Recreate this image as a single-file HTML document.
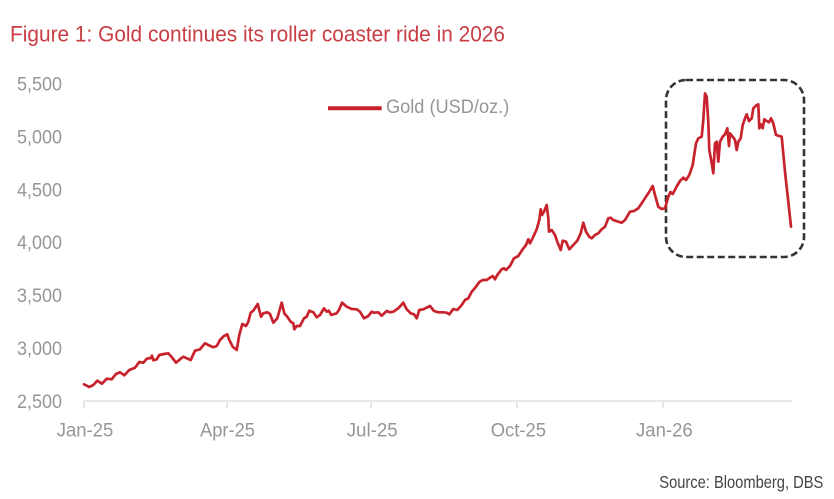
<!DOCTYPE html>
<html>
<head>
<meta charset="utf-8">
<style>
  html, body { margin: 0; padding: 0; background: #ffffff; }
  body { width: 834px; height: 499px; overflow: hidden; }
  svg { display: block; }
  text { font-family: "Liberation Sans", sans-serif; }
</style>
</head>
<body>
<svg width="834" height="499" viewBox="0 0 834 499" xmlns="http://www.w3.org/2000/svg">
  <rect x="0" y="0" width="834" height="499" fill="#ffffff"/>

  <!-- Title -->
  <text x="10" y="41.5" font-size="22" fill="#c93d44" textLength="495" lengthAdjust="spacingAndGlyphs">Figure 1: Gold continues its roller coaster ride in 2026</text>

  <!-- Y axis labels -->
  <g font-size="19.5" fill="#969696" text-anchor="end">
    <text x="62" y="90.5" textLength="45" lengthAdjust="spacingAndGlyphs">5,500</text>
    <text x="62" y="143.4" textLength="45" lengthAdjust="spacingAndGlyphs">5,000</text>
    <text x="62" y="196.3" textLength="45" lengthAdjust="spacingAndGlyphs">4,500</text>
    <text x="62" y="249.2" textLength="45" lengthAdjust="spacingAndGlyphs">4,000</text>
    <text x="62" y="302.1" textLength="45" lengthAdjust="spacingAndGlyphs">3,500</text>
    <text x="62" y="355.0" textLength="45" lengthAdjust="spacingAndGlyphs">3,000</text>
    <text x="62" y="407.9" textLength="45" lengthAdjust="spacingAndGlyphs">2,500</text>
  </g>

  <!-- X axis -->
  <line x1="84" y1="401" x2="792" y2="401" stroke="#e0e0e0" stroke-width="1.6"/>
  <g stroke="#e0e0e0" stroke-width="1.6">
    <line x1="84" y1="401" x2="84" y2="408"/>
    <line x1="227" y1="401" x2="227" y2="408"/>
    <line x1="371" y1="401" x2="371" y2="408"/>
    <line x1="517" y1="401" x2="517" y2="408"/>
    <line x1="663" y1="401" x2="663" y2="408"/>
  </g>
  <g font-size="19" fill="#969696">
    <text x="56.7" y="436.7" textLength="56.6" lengthAdjust="spacingAndGlyphs">Jan-25</text>
    <text x="200" y="436.7" textLength="55" lengthAdjust="spacingAndGlyphs">Apr-25</text>
    <text x="346.7" y="436.7" textLength="51" lengthAdjust="spacingAndGlyphs">Jul-25</text>
    <text x="490.7" y="436.7" textLength="55.3" lengthAdjust="spacingAndGlyphs">Oct-25</text>
    <text x="636" y="436.7" textLength="56.7" lengthAdjust="spacingAndGlyphs">Jan-26</text>
  </g>

  <!-- Legend -->
  <line x1="328" y1="108.3" x2="381.7" y2="108.3" stroke="#c8232c" stroke-width="4"/>
  <text x="386" y="113" font-size="19" fill="#969696" textLength="123.3" lengthAdjust="spacingAndGlyphs">Gold (USD/oz.)</text>

  <!-- Dashed highlight box -->
  <rect x="666" y="80" width="138" height="177" rx="20" ry="20" fill="none" stroke="#333333" stroke-width="2.6" stroke-dasharray="7 3.5"/>

  <!-- Gold series -->
  <polyline fill="none" stroke="#c8232c" stroke-width="2.7" stroke-linejoin="round" stroke-linecap="round"
    points="84,384.3 89.3,387 93.3,385 97.3,380.7 102,383.7 106.7,378.7 111.7,379.3 116,374 120,372.3 124.3,375.3 129.3,370 135,367.7 139.3,362 143.3,362.7 146.7,358.7 150.7,358 152,355.7 153.3,360.3 156.7,359.3 159.3,355 164,354 168.3,353.3 171.7,357 176,362.7 180,359.3 183.3,356.7 186.7,358.3 190.7,360 195,350.7 200,349.3 205,343.3 208.3,345 213.3,347.3 216.7,346 220,340 224,336 227.3,334.3 229.3,340 232.7,346.7 236.7,350 239.3,335 242.3,324 246,326 248.3,321.7 250.7,312.7 253.3,310.7 257.7,304 261,316.7 263.3,313.3 267.3,312.3 270,314 273.3,322.7 277.3,318.3 281.7,302.7 284.3,313.3 287.3,316.7 290.7,321.7 293.3,323.3 294.3,329.3 296.7,326 300,326 304,318.3 306.7,316.7 309.3,310.7 313.3,312.3 316.7,317.3 320,315 324,308.3 326.7,311.7 328.7,310.7 331.3,315 336.7,313.3 339.3,309.3 342,302.7 346.7,306.7 351.7,309 356.7,309.3 360,311.7 364,318.3 368.3,316 371.7,311.7 374,312.7 378.3,312.3 381.7,315.7 386.7,311 390,312.3 393.3,311.7 398.3,308.3 403.3,302.7 406.7,309.3 410.7,313.3 414,314.3 416.7,318.3 419.3,310 423.3,309.3 430,306 434,311 438.3,312.3 443.3,312.3 446.7,312.7 449.3,314.3 453.3,309 457.3,310 461.7,305 465,300 468.3,298.3 471.7,291.7 473.3,290 476,286.7 479.3,282 482.7,280 486.7,280 490.7,277.3 492.7,276 495,279.3 497.3,275 501.7,269.3 504,268.3 506,270 510,266 514,258.3 518.3,256 522.7,249.3 526,245 528.3,239.3 530,243.3 533.3,236.7 536.7,229.3 539.3,220 540.7,209.3 542,215 544,211.7 546.7,205 548.3,218.3 549,231.7 551.7,230 555,235 557.3,241.7 560.7,250 562.7,240.7 566,241.7 569.3,249.3 573.3,245 577.3,240.7 580.7,233.3 583.3,222.7 586,231.7 589.3,236.7 591.7,238.3 595,235 598.3,233.3 601.7,229.3 605,226.7 608.3,218.3 610.7,217.7 613.3,220 618.3,221.7 621.7,222.7 625,220 630,211.7 634,211 638.3,208.3 641.7,203.3 646,196.7 649.3,191.7 652.7,186 655,195 658.3,206.7 661.7,209 665,208.3 668.3,196.7 670.5,192 672.7,194 676.7,186.5 680,181 683.3,177.7 686,180 689.3,175 692.7,165 696,143.3 698.3,138.3 701.7,136.7 703.3,120 705,93.3 706.7,96.7 708.3,121.7 709.3,150 711.7,163.3 713.3,173.3 715,143.3 716.7,141.7 718.3,161.7 720,141.7 722.7,136.7 725,134.3 727.3,128.3 729,146 730,133.3 732.7,136.7 735,140 736.7,150 738.3,141.7 740.7,138.3 742.7,125 745,118.3 746.7,114.3 749,121 751.7,118.3 753.3,108.3 756,105.7 758.3,104.3 759.3,128.3 760.7,124.3 762.7,128.3 764.3,119.3 766.7,121 769,122.3 771,118.3 773.3,123.3 776,135 779.3,136 781.7,136.7 785,171.7 788.3,201.7 791,226.7"/>

  <!-- Source -->
  <text x="659.3" y="488" font-size="17.5" fill="#444444" textLength="164" lengthAdjust="spacingAndGlyphs">Source: Bloomberg, DBS</text>
</svg>
</body>
</html>
